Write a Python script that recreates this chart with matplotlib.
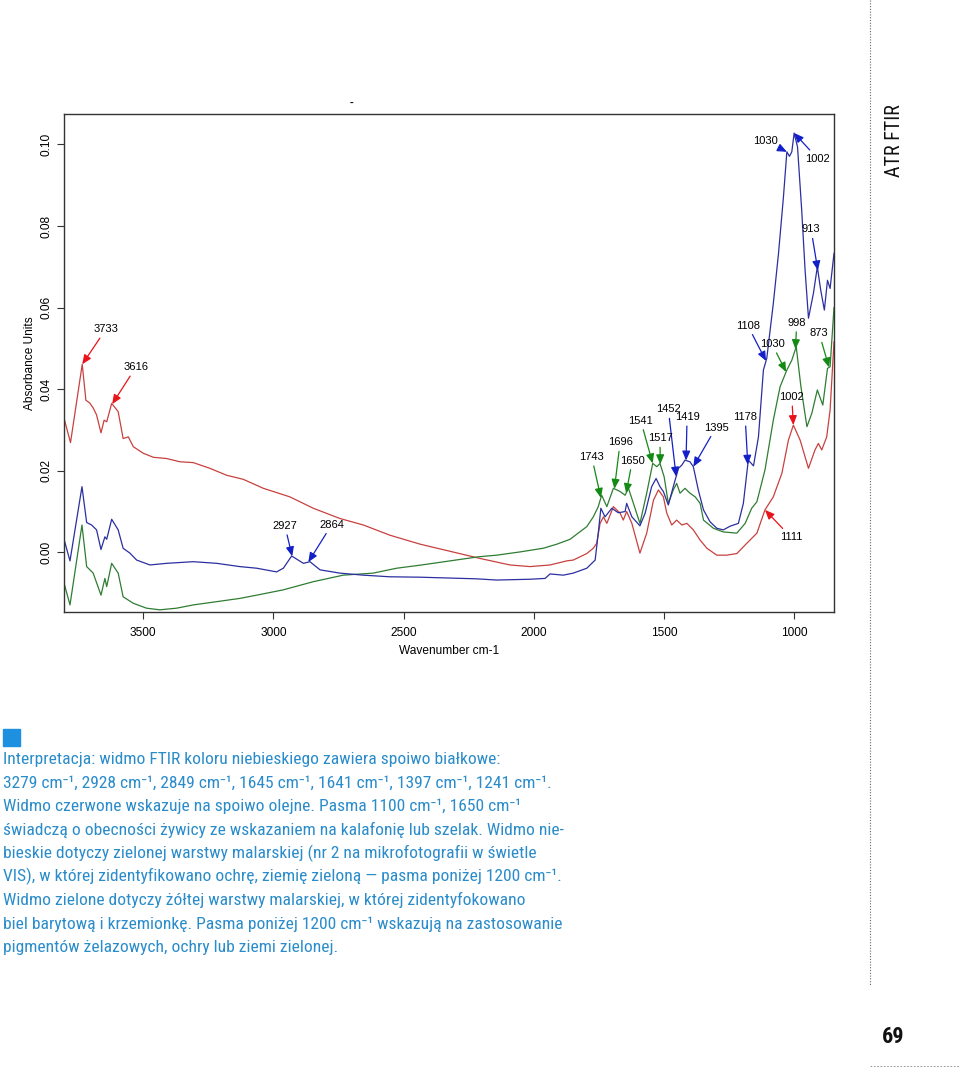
import numpy as np
import matplotlib as mpl
mpl.use("Agg")
import matplotlib.pyplot as plt
from matplotlib.patches import Rectangle
from matplotlib.lines import Line2D
from matplotlib import font_manager

# red spectrum - oil binder
red_wn = [3804, 3779, 3734, 3720, 3705, 3692, 3679, 3662, 3650, 3640, 3621, 3596, 3577, 3557,
          3538, 3500, 3461, 3410, 3359, 3308, 3244, 3180, 3116, 3039, 2937, 2847, 2745, 2655,
          2553, 2437, 2207, 2092, 2015, 1938, 1874, 1849, 1797, 1772, 1759, 1746, 1733, 1720,
          1695, 1669, 1657, 1644, 1624, 1593, 1567, 1541, 1522, 1503, 1490, 1471, 1452, 1432,
          1413, 1388, 1362, 1336, 1298, 1260, 1221, 1183, 1144, 1113, 1081, 1048, 1023, 1004,
          978, 946, 921, 908, 895, 876, 863, 848]
red_abs = [0.0329, 0.0269, 0.0461, 0.0373, 0.0366, 0.0354, 0.0337, 0.0293, 0.0324, 0.0320,
           0.0365, 0.0345, 0.0279, 0.0283, 0.0259, 0.0243, 0.0233, 0.0230, 0.0222, 0.0220,
           0.0206, 0.0189, 0.0179, 0.0157, 0.0136, 0.0108, 0.0083, 0.0067, 0.0042, 0.0020,
           -0.0015, -0.0031, -0.0035, -0.0031, -0.0021, -0.0019, -0.0003, 0.0010, 0.0022,
           0.0071, 0.0087, 0.0071, 0.0112, 0.0096, 0.0079, 0.0100, 0.0071, -0.0002, 0.0047,
           0.0128, 0.0153, 0.0136, 0.0096, 0.0067, 0.0079, 0.0067, 0.0071, 0.0055, 0.0030,
           0.0010, -0.0007, -0.0007, -0.0003, 0.0022, 0.0047, 0.0104, 0.0136, 0.0194, 0.0275,
           0.0312, 0.0275, 0.0206, 0.0251, 0.0267, 0.0251, 0.0283, 0.0349, 0.0516]

# blue spectrum - protein binder
blue_wn = [3804, 3781, 3735, 3717, 3698, 3679, 3662, 3647, 3640, 3621, 3596, 3577, 3551, 3525,
           3474, 3410, 3308, 3218, 3129, 3064, 2988, 2962, 2930, 2885, 2860, 2821, 2745, 2655,
           2553, 2437, 2220, 2143, 2015, 1957, 1938, 1887, 1849, 1797, 1765, 1753, 1743, 1727,
           1701, 1676, 1650, 1644, 1624, 1593, 1573, 1548, 1531, 1516, 1503, 1484, 1465, 1445,
           1432, 1420, 1401, 1388, 1369, 1349, 1324, 1298, 1273, 1247, 1215, 1196, 1177, 1157,
           1138, 1119, 1106, 1081, 1061, 1042, 1029, 1019, 1010, 1001, 988, 972, 959, 946, 927,
           912, 899, 885, 873, 863, 848]
blue_abs = [0.0032, -0.0021, 0.0161, 0.0073, 0.0067, 0.0055, 0.0007, 0.0038, 0.0032, 0.0081,
            0.0055, 0.0010, -0.0002, -0.0019, -0.0031, -0.0027, -0.0023, -0.0027, -0.0035,
            -0.0039, -0.0048, -0.0039, -0.0009, -0.0027, -0.0023, -0.0043, -0.0051, -0.0056,
            -0.0060, -0.0061, -0.0065, -0.0068, -0.0066, -0.0064, -0.0053, -0.0056, -0.0051,
            -0.0039, -0.0019, 0.0047, 0.0108, 0.0087, 0.0108, 0.0097, 0.0100, 0.0120, 0.0087,
            0.0065, 0.0096, 0.0161, 0.0181, 0.0161, 0.0149, 0.0116, 0.0161, 0.0206, 0.0214,
            0.0226, 0.0222, 0.0210, 0.0153, 0.0104, 0.0075, 0.0059, 0.0055, 0.0064, 0.0071,
            0.0120, 0.0226, 0.0212, 0.0283, 0.0447, 0.0476, 0.0610, 0.0733, 0.0872, 0.0982,
            0.0971, 0.0982, 0.1028, 0.0994, 0.0839, 0.0692, 0.0574, 0.0635, 0.0700, 0.0643,
            0.0594, 0.0667, 0.0647, 0.0733]

# green spectrum - yellow layer
green_wn = [3804, 3781, 3735, 3717, 3692, 3662, 3647, 3640, 3621, 3596, 3577, 3538, 3487, 3436,
            3372, 3308, 3218, 3129, 3064, 2962, 2847, 2732, 2617, 2527, 2431, 2213, 2143, 2053,
            1964, 1912, 1861, 1849, 1797, 1772, 1753, 1740, 1720, 1695, 1669, 1650, 1637, 1618,
            1593, 1567, 1544, 1528, 1516, 1500, 1484, 1465, 1452, 1439, 1420, 1401, 1381, 1362,
            1349, 1311, 1273, 1221, 1189, 1164, 1144, 1113, 1081, 1055, 1029, 1010, 993, 975,
            952, 933, 912, 891, 873, 863, 848]
green_abs = [-0.0075, -0.0129, 0.0067, -0.0035, -0.0051, -0.0105, -0.0064, -0.0084, -0.0027,
             -0.0051, -0.0109, -0.0125, -0.0137, -0.0141, -0.0137, -0.0129, -0.0121, -0.0113,
             -0.0105, -0.0092, -0.0072, -0.0056, -0.0051, -0.0039, -0.0031, -0.0011, -0.0007,
             0.0001, 0.0010, 0.0020, 0.0032, 0.0038, 0.0063, 0.0087, 0.0112, 0.0140, 0.0112,
             0.0157, 0.0149, 0.0140, 0.0157, 0.0120, 0.0071, 0.0145, 0.0218, 0.0210, 0.0218,
             0.0185, 0.0120, 0.0153, 0.0169, 0.0145, 0.0157, 0.0145, 0.0136, 0.0120, 0.0079,
             0.0059, 0.0050, 0.0047, 0.0071, 0.0108, 0.0124, 0.0202, 0.0324, 0.0406, 0.0447,
             0.0471, 0.0504, 0.0406, 0.0308, 0.0341, 0.0398, 0.0361, 0.0451, 0.0455, 0.0600]

# peak labels: text, spectrum, band position, label position (wn, abs)
peak_labels = ["3733", "3616", "1002", "1111",
               "2927", "2864", "1030", "1002", "913", "1108", "1178", "1452", "1419", "1395",
               "1743", "1696", "1650", "1541", "1517", "1030", "998", "873"]
peak_curve = ["red", "red", "red", "red",
              "blue", "blue", "blue", "blue", "blue", "blue", "blue", "blue", "blue", "blue",
              "green", "green", "green", "green", "green", "green", "green", "green"]
peak_wn = [3734, 3619, 1004, 1113,
           2928, 2866, 1029, 1001, 910, 1109, 1179, 1454, 1416, 1388,
           1743, 1691, 1646, 1544, 1515, 1032, 996, 867]
label_wn = [3643, 3528, 1010, 1013,
            2956, 2776, 1110, 910, 936, 1179, 1189, 1484, 1412, 1301,
            1778, 1669, 1622, 1590, 1516, 1086, 991, 905]
label_abs = [0.0547, 0.0454, 0.0381, 0.0037,
             0.0065, 0.0068, 0.1008, 0.0965, 0.0792, 0.0556, 0.0332, 0.0351, 0.0332, 0.0306,
             0.0234, 0.0270, 0.0225, 0.0323, 0.0280, 0.0511, 0.0563, 0.0537]

xticks = [3500, 3000, 2500, 2000, 1500, 1000]
yticks = [0.00, 0.02, 0.04, 0.06, 0.08, 0.10]

body_lines = [
    "Interpretacja: widmo FTIR koloru niebieskiego zawiera spoiwo białkowe:",
    "3279 cm⁻¹, 2928 cm⁻¹, 2849 cm⁻¹, 1645 cm⁻¹, 1641 cm⁻¹, 1397 cm⁻¹, 1241 cm⁻¹.",
    "Widmo czerwone wskazuje na spoiwo olejne. Pasma 1100 cm⁻¹, 1650 cm⁻¹",
    "świadczą o obecności żywicy ze wskazaniem na kalafonię lub szelak. Widmo nie-",
    "bieskie dotyczy zielonej warstwy malarskiej (nr 2 na mikrofotografii w świetle",
    "VIS), w której zidentyfikowano ochrę, ziemię zieloną — pasma poniżej 1200 cm⁻¹.",
    "Widmo zielone dotyczy żółtej warstwy malarskiej, w której zidentyfokowano",
    "biel barytową i krzemionkę. Pasma poniżej 1200 cm⁻¹ wskazują na zastosowanie",
    "pigmentów żelazowych, ochry lub ziemi zielonej.",
]

W, H = 960, 1072


def fx(px):
    return px / W


def fy(py):
    return 1 - py / H


def pick_narrow_font():
    """Finds a condensed sans family, falls back to DejaVu Sans"""
    entries = font_manager.fontManager.ttflist
    names = {f.name for f in entries}
    for cand in ["Roboto Condensed", "Noto Sans Condensed", "Open Sans Condensed",
                 "Liberation Sans Narrow", "DejaVu Sans Condensed"]:
        if cand in names:
            return cand
    return "DejaVu Sans"


def fit_size(fig, renderer, txt, base, target_px, **kw):
    t = fig.text(0, 0, txt, fontsize=base, **kw)
    w = t.get_window_extent(renderer).width
    t.remove()
    return base * target_px / w


def main():
    narrow = pick_narrow_font()

    plt.rcParams["font.family"] = ["Liberation Sans", "DejaVu Sans"]

    fig = plt.figure(figsize=(W / 100, H / 100), dpi=100)
    renderer = fig.canvas.get_renderer()
    ax = fig.add_axes([fx(64), fy(611.7), fx(834) - fx(64), fy(114.3) - fy(611.7)])

    line_cols = {"red": "#c8413f", "blue": "#2b2fa0", "green": "#2f7d32"}
    arrow_cols = {"red": "#e8141a", "blue": "#1320c8", "green": "#138a13"}
    spectra = {"red": (red_wn, red_abs), "blue": (blue_wn, blue_abs), "green": (green_wn, green_abs)}

    for key in ["red", "green", "blue"]:
        wn, ab = spectra[key]
        ax.plot(wn, ab, color=line_cols[key], lw=0.9)

    for i in range(len(peak_labels)):
        wn, ab = spectra[peak_curve[i]]
        head_y = np.interp(peak_wn[i], wn[::-1], ab[::-1])
        ax.annotate(peak_labels[i], xy=(peak_wn[i], head_y),
                    xytext=(label_wn[i], label_abs[i]), textcoords="data",
                    ha="center", va="center", fontsize=8, color="black",
                    arrowprops=dict(arrowstyle="-|>,head_length=0.7,head_width=0.3",
                                    color=arrow_cols[peak_curve[i]], lw=0.9,
                                    shrinkA=1, shrinkB=0))

    ax.set_xlim(3804, 848)
    ax.set_ylim(-0.01456, 0.1074)
    ax.set_xticks(xticks)
    ax.set_yticks(yticks)
    ax.set_yticklabels([f"{v:.2f}" for v in yticks], rotation=90, va="center")
    ax.tick_params(axis="both", labelsize=8.6, length=4.8, width=0.8, color="#333333")
    ax.tick_params(axis="x", pad=6.5)
    ax.tick_params(axis="y", pad=3.5)
    for sp in ax.spines.values():
        sp.set_color("#333333")
        sp.set_linewidth(1.0)
    ax.set_xlabel("Wavenumber cm-1", fontsize=8.6, labelpad=4)
    ax.set_ylabel("Absorbance Units", fontsize=8.6, labelpad=3)

    # little title mark above the plot
    fig.text(fx(352), fy(103), "-", fontsize=8, fontweight="bold", ha="center", va="center")

    # page furniture
    fig.add_artist(Line2D([fx(870), fx(870)], [fy(0), fy(985)], color="#666666", lw=0.8,
                          linestyle=(0, (1, 1.5))))
    fig.add_artist(Line2D([fx(870), fx(960)], [fy(1066), fy(1066)], color="#888888", lw=0.6,
                          linestyle=(0, (2, 2))))
    side_size = fit_size(fig, renderer, "ATR FTIR", 15, 73, family=narrow)
    fig.text(fx(895), fy(141), "ATR FTIR", rotation=90, ha="center", va="center",
             fontsize=side_size, color="#111111", family=narrow)
    fig.text(fx(893), fy(1037), "69", ha="center", va="center", fontsize=16,
             fontweight="bold", color="#111111", family=narrow)

    fig.add_artist(Rectangle((fx(3), fy(746)), fx(17), fy(729) - fy(746), color="#1e90e0",
                             transform=fig.transFigure))
    body_fam = [narrow, "DejaVu Sans"]
    body_size = fit_size(fig, renderer, body_lines[0], 13, 494, family=body_fam)
    for k, txt in enumerate(body_lines):
        fig.text(fx(3), fy(764 + 23.5 * k), txt, ha="left", va="baseline", fontsize=body_size,
                 color="#2a8cca", family=body_fam)

    fig.savefig("out.png", dpi=100)


if __name__ == "__main__":
    main()
